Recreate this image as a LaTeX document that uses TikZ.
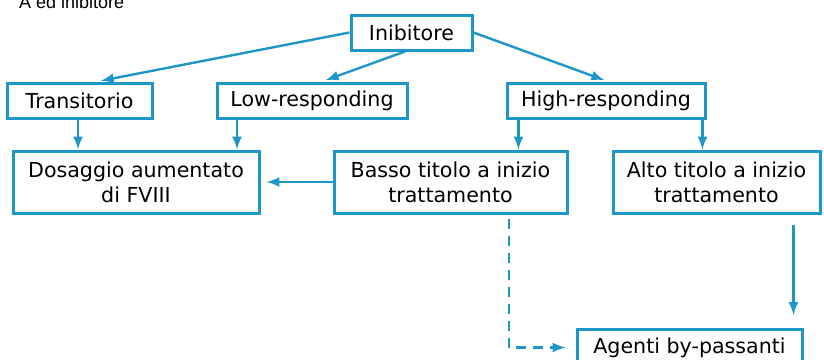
\documentclass[tikz,border=0pt]{standalone}
\usepackage{fontspec}
\setmainfont{DejaVu Sans}
\newfontfamily\titlefont{Liberation Sans}
\usepackage{tikz}
\usetikzlibrary{calc}
\definecolor{linkblue}{RGB}{30,150,200}

\begin{document}
\begin{tikzpicture}[x=0.5pt,y=-0.5pt,>=latex,
    box/.style={draw=linkblue, line width=1.5pt, inner sep=0pt, minimum height=17.5pt, align=center, font=\fontsize{10.3}{12.5}\selectfont},
    link/.style={draw=linkblue, line width=1.2pt, ->}]
  \useasboundingbox (0,0) rectangle (824,359);
  \node[anchor=base west, font=\titlefont\fontsize{9}{10}\selectfont] (title) at (12,8) {A ed inibitore};

  \node[box, minimum width=60.5pt] (inib) at (411.5,32.5) {Inibitore};
  \node[box, minimum width=72.5pt] (trans) at (79.5,100.5) {Transitorio};
  \node[box, minimum width=95pt] (low) at (312,100.5) {Low-responding};
  \node[box, minimum width=99pt] (high) at (606,100.5) {High-responding};
  \node[box, minimum width=123pt, minimum height=31pt] (dos) at (136,182) {Dosaggio aumentato\\di FVIII};
  \node[box, minimum width=116.5pt, minimum height=31pt] (basso) at (450.5,182) {Basso titolo a inizio\\trattamento};
  \node[box, minimum width=103.5pt, minimum height=31pt] (alto) at (716.5,182) {Alto titolo a inizio\\trattamento};
  \node[box, minimum width=112.5pt, minimum height=18pt] (agenti) at (689.5,347.5) {Agenti by-passanti};

  \coordinate (lowout) at ($(low.south)+(-75,0)$);
  \coordinate (highl) at ($(high.south west)+(13,0)$);
  \coordinate (highr) at ($(high.south east)+(-4,0)$);
  \coordinate (bassoout) at ($(basso.south)+(58.5,0)$);
  \coordinate (agin) at ($(agenti.north east)+(-10,0)$);

  \draw[link, shorten >=2pt] (inib.west) -- ($(trans.north)+(17.5,0)$);
  \draw[link, shorten >=2pt] ($(inib.south)+(-6.5,0)$) -- ($(low.north)+(10,0)$);
  \draw[link, shorten >=2pt] (inib.east) -- ($(high.north)+(2,0)$);
  \draw[link] (trans.south -| 78,0) -- (dos.north -| 78,0);
  \draw[link] (lowout) -- (lowout |- dos.north);
  \draw[link] (highl) -- (highl |- basso.north);
  \draw[link] (highr) -- (highr |- alto.north);
  \draw[link, shorten >=3pt] (basso.west) -- (dos.east);
  \draw[link, dashed, dash pattern=on 5pt off 3.5pt, shorten <=2pt, shorten >=5pt] (bassoout) |- (agenti.west);
  \draw[link, shorten <=5pt, shorten >=6.5pt] (agin |- alto.south) -- (agin);
\end{tikzpicture}
\end{document}
